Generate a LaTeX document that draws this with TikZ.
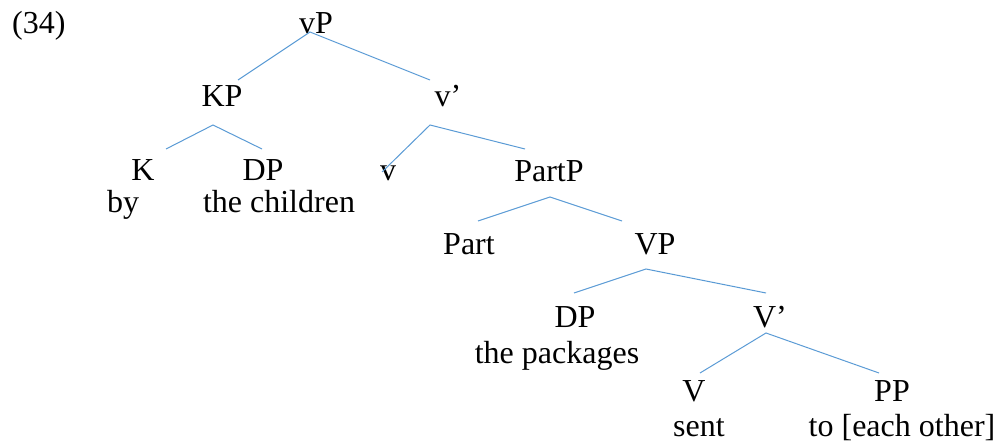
\documentclass[tikz,border=0pt]{standalone}
\usepackage{fontspec}
\setmainfont{Liberation Serif}
\definecolor{branch}{HTML}{5B9BD5}
\begin{document}
\begin{tikzpicture}[x=1pt,y=-1pt,
  lbl/.style={inner sep=0pt,anchor=base,font=\fontsize{32}{38}\selectfont},
  branchline/.style={draw=branch,line width=1pt}]
\useasboundingbox (0,0) rectangle (999,443);
% example number
\node[lbl,anchor=base west] (num) at (12,34) {(34)};
% category labels
\node[lbl] (vP) at (316,34) {vP};
\node[lbl] (KP) at (222,107) {KP};
\node[lbl] (vbar) at (448,107) {v’};
\node[lbl] (K) at (143,181) {K};
\node[lbl] (DPa) at (263,181) {DP};
\node[lbl] (v) at (388,181) {v};
\node[lbl] (PartP) at (549,182) {PartP};
\node[lbl] (Part) at (469,255) {Part};
\node[lbl] (VP) at (655,255) {VP};
\node[lbl] (DPb) at (575,328) {DP};
\node[lbl] (Vbar) at (770,328) {V’};
\node[lbl] (V) at (694,402) {V};
\node[lbl] (PP) at (892,402) {PP};
% words
\node[lbl] (by) at (123,213) {by};
\node[lbl] (children) at (279,213) {the children};
\node[lbl] (packages) at (557,364) {the packages};
\node[lbl] (sent) at (699,437) {sent};
\node[lbl] (eachother) at (902,437) {to [each other]};
% branch attachment points
\coordinate (vP-b) at (310,32);
\coordinate (KP-t) at (238,80);
\coordinate (vbar-t) at (430,80);
\coordinate (KP-b) at (213,125);
\coordinate (K-t) at (166,149);
\coordinate (DPa-t) at (262,149);
\coordinate (vbar-b) at (430,125);
\coordinate (v-t) at (382,172);
\coordinate (PartP-t) at (525,149);
\coordinate (PartP-b) at (550,197);
\coordinate (Part-t) at (478,221);
\coordinate (VP-t) at (622,221);
\coordinate (VP-b) at (646,269);
\coordinate (DPb-t) at (574,293);
\coordinate (Vbar-t) at (766,293);
\coordinate (Vbar-b) at (766,333);
\coordinate (V-t) at (700,373);
\coordinate (PP-t) at (879,373);
% branches
\draw[branchline] (KP-t) -- (vP-b) -- (vbar-t);
\draw[branchline] (K-t) -- (KP-b) -- (DPa-t);
\draw[branchline] (v-t) -- (vbar-b) -- (PartP-t);
\draw[branchline] (Part-t) -- (PartP-b) -- (VP-t);
\draw[branchline] (DPb-t) -- (VP-b) -- (Vbar-t);
\draw[branchline] (V-t) -- (Vbar-b) -- (PP-t);
\end{tikzpicture}
\end{document}
